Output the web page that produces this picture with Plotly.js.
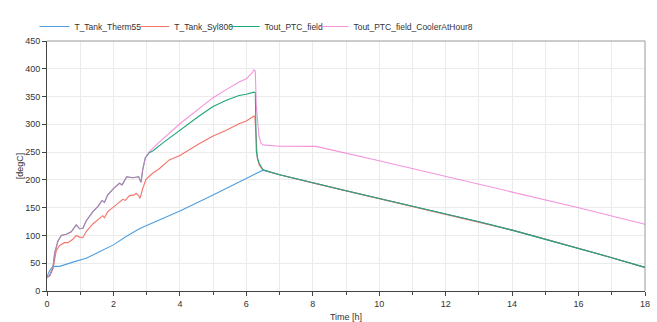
<!DOCTYPE html>
<html>
<head>
<meta charset="utf-8">
<script src="https://cdn.plot.ly/plotly-3.0.1.min.js"></script>
<style>html,body{margin:0;padding:0;background:#fff;}#chart{width:657px;height:322px;}</style>
</head>
<body>
<div id="chart"></div>
<script>
// Series names
const seriesNames = ["T_Tank_Therm55", "T_Tank_Syl800", "Tout_PTC_field", "Tout_PTC_field_CoolerAtHour8"];

// T_Tank_Therm55
const tTherm = [0, 0.08, 0.18, 0.38, 0.78, 1.18, 1.58, 2.0, 2.38, 2.78, 3.0, 3.38, 4.0, 5.0, 6.0, 6.5, 7, 8, 9, 10, 11, 12, 13, 14, 15, 16, 17, 18];
const vTherm = [26, 37, 44.4, 44.4, 52, 59, 70.6, 83, 98, 112, 118, 128, 144, 173, 203, 217.5, 209.4, 194.6, 180.3, 166.5, 152.6, 138.8, 124.5, 109.6, 93.5, 77, 60, 42.5];

// T_Tank_Syl800
const tSyl = [0, 0.08, 0.18, 0.23, 0.28, 0.38, 0.53, 0.63, 0.78, 0.88, 0.98, 1.08, 1.18, 1.38, 1.58, 1.68, 1.73, 1.83, 2.0, 2.18, 2.28, 2.36, 2.48, 2.63, 2.68, 2.76, 2.8, 2.88, 2.98, 3.18, 3.38, 3.68, 4.0, 4.58, 5.0, 5.38, 5.78, 6.0, 6.23, 6.26, 6.28, 6.3, 6.33, 6.38, 6.45, 6.55, 7, 8, 9, 10, 11, 12, 13, 14, 15, 16, 17, 18];
const vSyl = [26, 27, 40, 59, 73, 82, 87, 87, 93, 100, 97, 96, 107, 120.6, 131.7, 135.6, 131.7, 142.8, 151, 159.4, 165, 163, 171.7, 173, 176, 171.7, 166.7, 184, 201, 212, 220, 236, 244, 265, 279, 289, 301, 306, 315, 312, 290, 260, 240, 228, 221, 217, 209.4, 194.6, 180.3, 166.5, 152.6, 138.8, 124.5, 109.6, 93.5, 77, 60, 42.5];

// Tout_PTC_field
const tField = [0, 0.08, 0.18, 0.23, 0.33, 0.43, 0.58, 0.73, 0.88, 0.98, 1.08, 1.18, 1.38, 1.53, 1.66, 1.73, 1.83, 2.0, 2.18, 2.26, 2.4, 2.58, 2.76, 2.83, 2.88, 2.96, 3.08, 3.18, 3.5, 4.0, 4.58, 5.0, 5.38, 5.78, 6.0, 6.23, 6.27, 6.3, 6.34, 6.39, 6.5, 7, 8, 9, 10, 11, 12, 13, 14, 15, 16, 17, 18];
const vField = [24, 28, 43, 68, 90, 100, 102, 106.7, 119, 112, 113, 126, 143, 152, 163, 159.4, 173, 184.4, 194, 191, 205.6, 204, 205.6, 195.6, 218, 240, 249, 252, 267, 290, 315, 332, 343, 352, 354, 358, 357, 252, 238, 229.5, 218, 209.4, 194.6, 180.3, 166.5, 152.6, 138.8, 124.5, 109.6, 93.5, 77, 60, 42.5];

// Tout_PTC_field_CoolerAtHour8
const tCooler = [0, 0.08, 0.18, 0.23, 0.33, 0.43, 0.58, 0.73, 0.88, 0.98, 1.08, 1.18, 1.38, 1.53, 1.66, 1.73, 1.83, 2.0, 2.18, 2.26, 2.4, 2.58, 2.76, 2.83, 2.88, 2.96, 3.08, 3.38, 4.0, 4.58, 5.0, 5.38, 5.78, 6.0, 6.18, 6.23, 6.27, 6.3, 6.34, 6.38, 6.44, 6.5, 7.0, 8.1, 10, 12, 14, 16, 18];
const vCooler = [24, 28, 43, 68, 90, 100, 102, 106.7, 119, 112, 113, 126, 143, 152, 163, 159.4, 173, 184.4, 194, 191, 205.6, 204, 205.6, 195.6, 218, 240, 251, 268, 301, 329, 348, 362, 376, 382, 393, 398, 396, 334, 301, 279, 266, 263, 260.5, 260.3, 234.4, 206.5, 179, 150, 120];

const colors = ["#4f9fe2", "#f4736b", "#1fa57a", "#f06fd2"];
const opac = [1, 1, 1, 0.75];
const legendIds = ["legend", "legend2", "legend3", "legend4"];
const legendX = [-0.021, 0.146, 0.297, 0.4455];
const xs = [tTherm, tSyl, tField, tCooler];
const ys = [vTherm, vSyl, vField, vCooler];

const traces = seriesNames.map((n, i) => ({
  type: "scatter", mode: "lines", name: n,
  x: xs[i], y: ys[i], opacity: opac[i], legend: legendIds[i],
  line: {color: colors[i], width: 1.1}
}));

const fam = "Liberation Sans, Arial, sans-serif";
const legFont = {family: fam, size: 8.5, color: "#333"};

const layout = {
  width: 657, height: 322,
  margin: {l: 47, r: 12, t: 21, b: 31},
  paper_bgcolor: "#fff", plot_bgcolor: "#fff",
  font: {family: fam, size: 9, color: "#333"},
  showlegend: true,
  xaxis: {
    range: [0, 18], dtick: 2, tick0: 0,
    showline: true, linecolor: "#444", linewidth: 1, mirror: false,
    ticks: "outside", ticklen: 4, tickcolor: "#444",
    showgrid: true, gridcolor: "#ebebeb", zeroline: false,
    minor: {dtick: 1, ticks: "outside", ticklen: 3, tickcolor: "#444", showgrid: true, gridcolor: "#ebebeb"},
    title: {text: "Time [h]", font: {family: fam, size: 9, color: "#333"}, standoff: 6}
  },
  yaxis: {
    range: [0, 450], dtick: 50, tick0: 0,
    showline: true, linecolor: "#444", linewidth: 1, mirror: false,
    ticks: "outside", ticklen: 4, tickcolor: "#444",
    showgrid: true, gridcolor: "#ebebeb", zeroline: false,
    title: {text: "[degC]", font: {family: fam, size: 9, color: "#333"}, standoff: 0}
  },
  shapes: [
    {type: "line", xref: "paper", yref: "paper", x0: 0, x1: 1, y0: 1, y1: 1, line: {color: "#999", width: 1}},
    {type: "line", xref: "paper", yref: "paper", x0: 1, x1: 1, y0: 0, y1: 1, line: {color: "#999", width: 1}}
  ]
};
legendIds.forEach((id, i) => {
  layout[id] = {orientation: "h", x: legendX[i], xanchor: "left", y: 1.0, yanchor: "bottom",
                bgcolor: "rgba(0,0,0,0)", font: legFont, itemwidth: 30};
});

Plotly.newPlot("chart", traces, layout, {displayModeBar: false, staticPlot: true});
</script>
</body>
</html>
